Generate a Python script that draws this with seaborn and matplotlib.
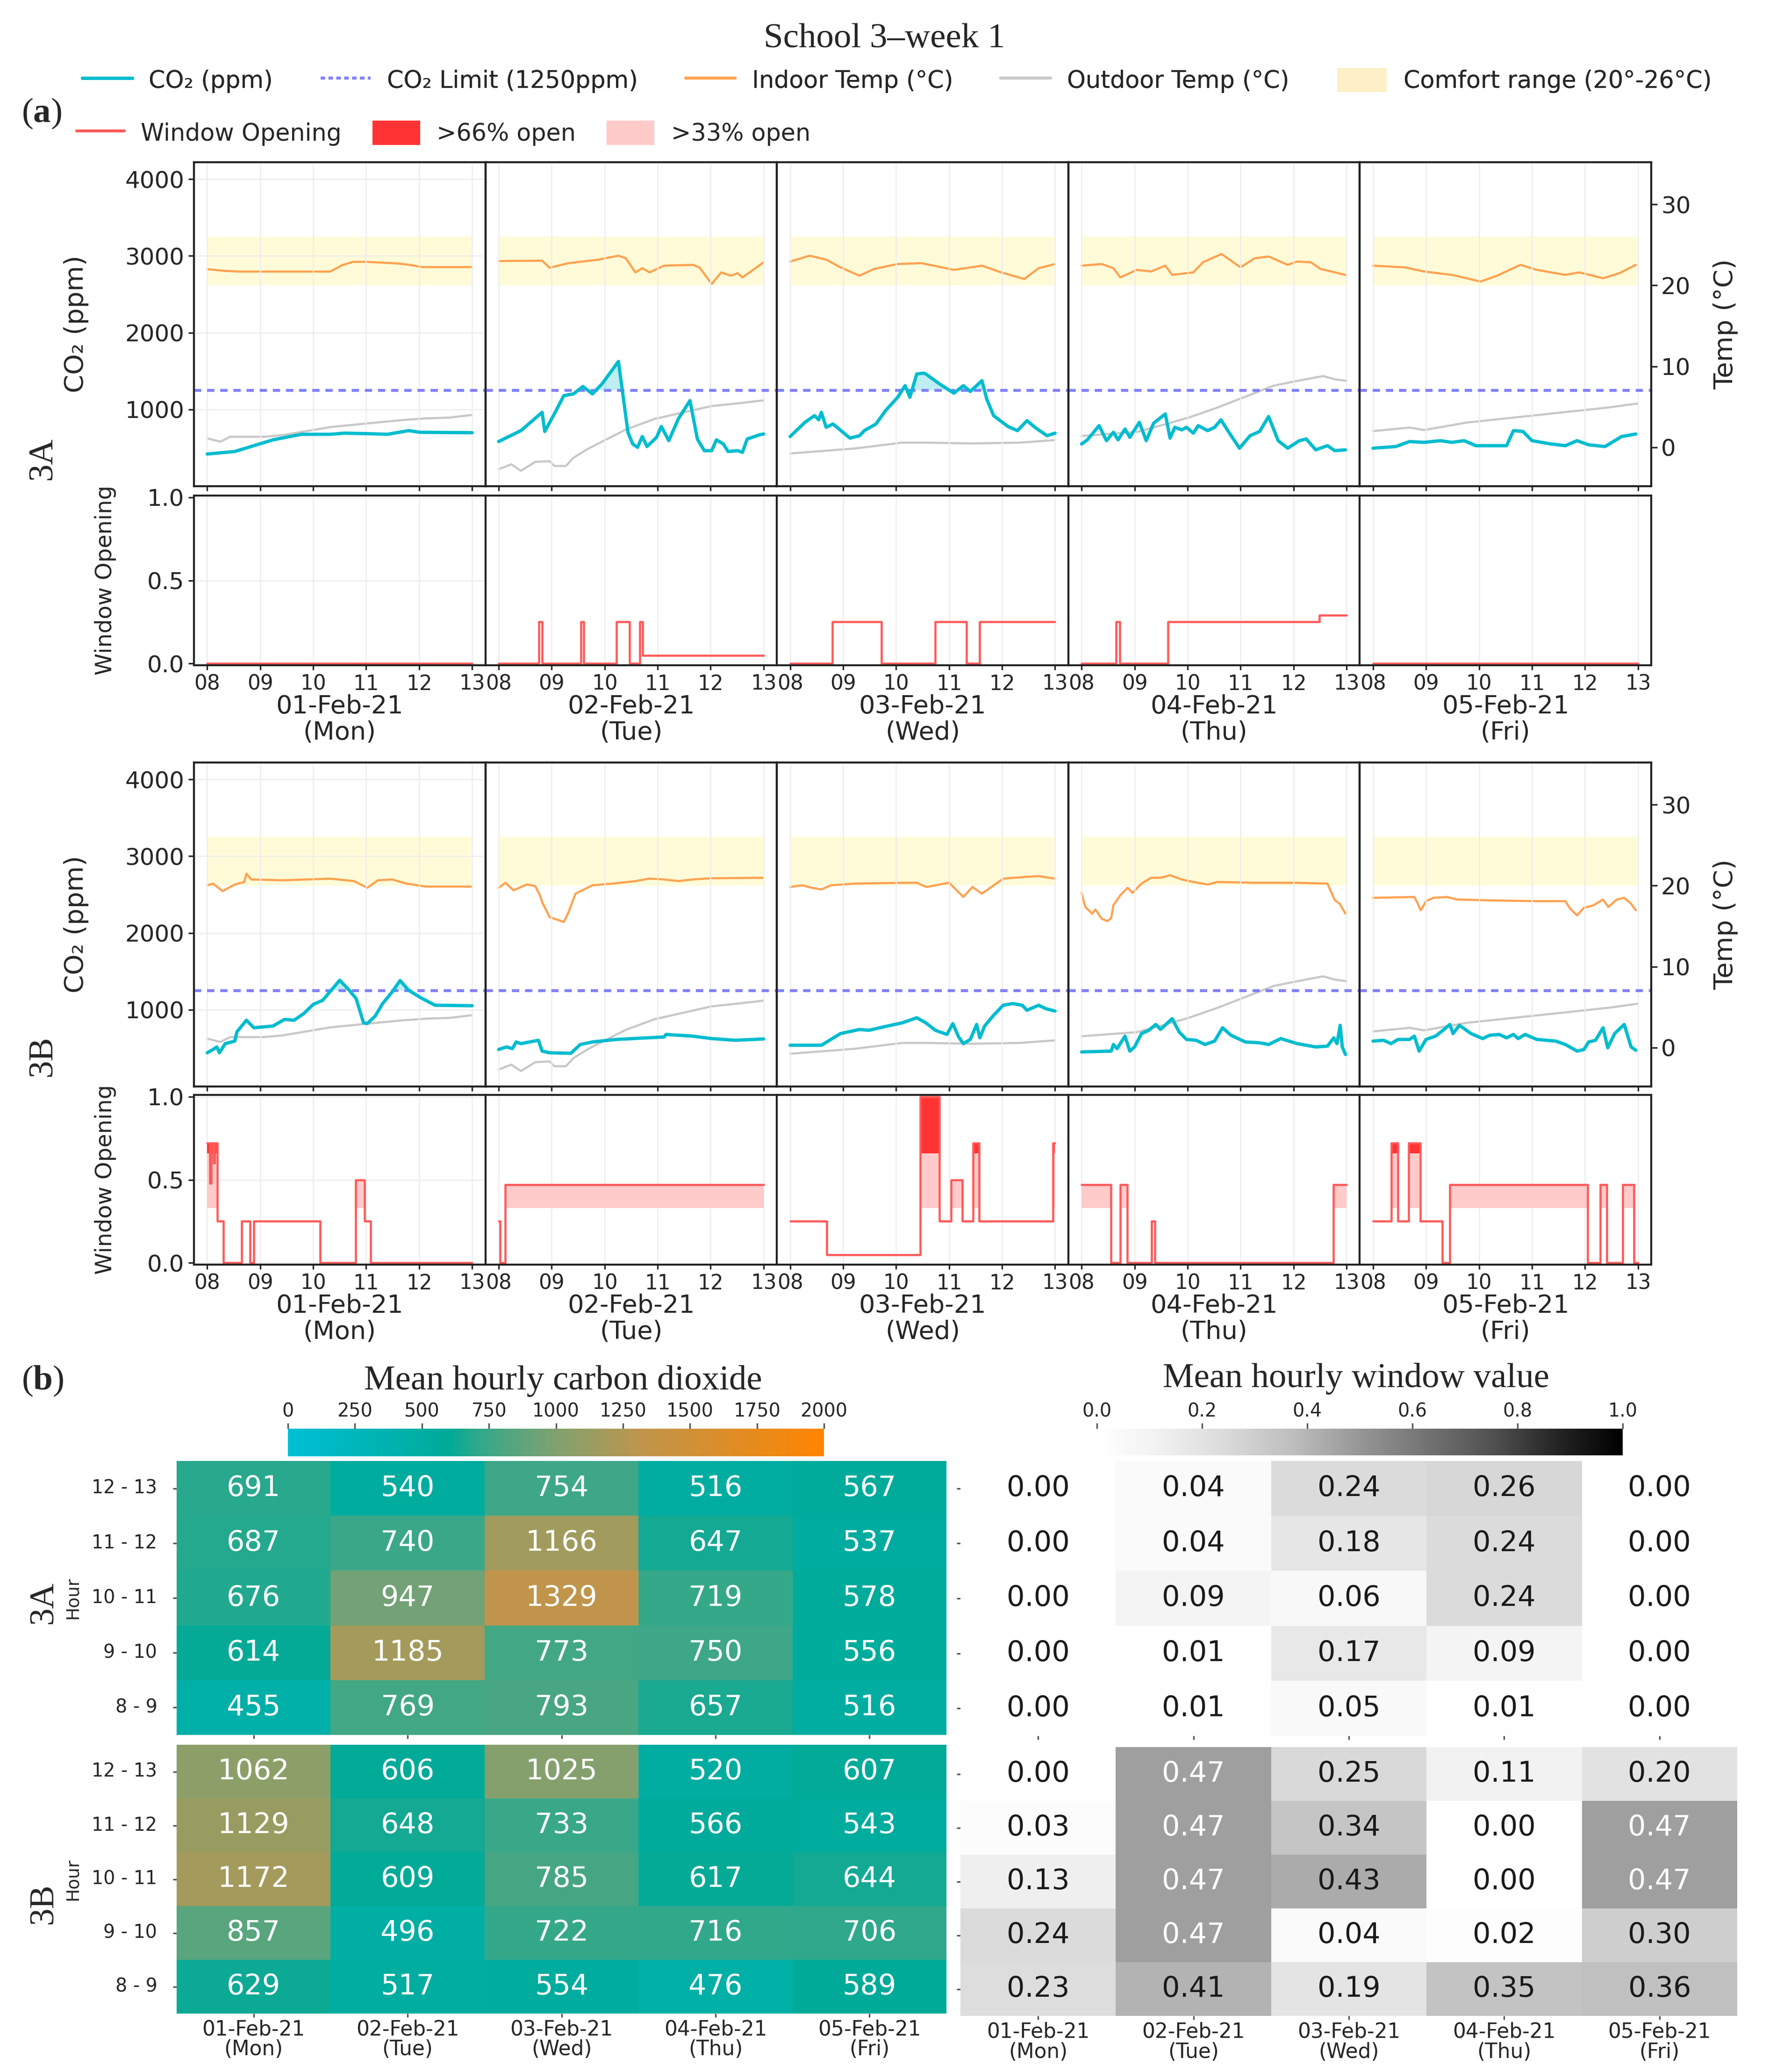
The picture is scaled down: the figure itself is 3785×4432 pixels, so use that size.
import numpy as np
import pandas as pd
import matplotlib
matplotlib.use("Agg")
import matplotlib.pyplot as plt
import seaborn as sns
from matplotlib.colors import LinearSegmentedColormap, Normalize
from matplotlib.cm import ScalarMappable
from matplotlib.lines import Line2D
from matplotlib.patches import Patch

sns.set_style("white")
plt.rcParams["font.family"] = ["DejaVu Sans"]
plt.rcParams["mathtext.fontset"] = "custom"
plt.rcParams["mathtext.rm"] = "Liberation Serif"
plt.rcParams["mathtext.bf"] = "Liberation Serif:bold"
SERIF = "Liberation Serif"

DAYS = ["01-Feb-21", "02-Feb-21", "03-Feb-21", "04-Feb-21", "05-Feb-21"]
WEEKDAYS = ["Mon", "Tue", "Wed", "Thu", "Fri"]
HOUR_BINS = ["8 - 9", "9 - 10", "10 - 11", "11 - 12", "12 - 13"]
CO2_LIMIT = 1250
COMFORT_LOW, COMFORT_HIGH = 20, 26

# ---- outdoor temperature (°C), same for both rooms ----
outdoor_mon = [(8.0, 1.1), (8.25, 0.7), (8.43, 1.3), (9.06, 1.3), (9.42, 1.5), (9.87, 2.0), (10.32, 2.5),
               (11.02, 2.95), (11.67, 3.36), (12.12, 3.57), (12.57, 3.67), (13.0, 4.0)]
outdoor_tue = [(8.0, -2.7), (8.24, -2.1), (8.42, -2.9), (8.69, -1.8), (8.96, -1.7), (9.05, -2.3), (9.27, -2.3),
               (9.41, -1.3), (9.68, -0.2), (10.04, 1.0), (10.4, 2.2), (10.94, 3.5), (11.48, 4.3), (12.02, 5.1),
               (12.47, 5.4), (13.0, 5.8)]
outdoor_wed = [(8.0, -0.76), (9.22, -0.14), (10.12, 0.58), (10.56, 0.58), (11.44, 0.48), (12.33, 0.58), (13.0, 0.89)]
outdoor_thu = [(8.0, 1.4), (8.6, 1.7), (9.04, 1.9), (9.58, 2.85), (10.02, 3.67), (10.56, 4.9), (11.09, 6.25),
               (11.62, 7.6), (12.07, 8.2), (12.56, 8.8), (12.78, 8.4), (13.0, 8.2)]
outdoor_fri = [(8.0, 2.0), (8.69, 2.44), (8.96, 2.13), (9.76, 3.05), (10.65, 3.67), (11.54, 4.29), (12.43, 4.91),
               (13.0, 5.42)]

# ---- room 3A ----
co2_3a_mon = [(8.0, 419), (8.52, 452), (8.88, 528), (9.24, 604), (9.78, 676), (10.32, 676), (10.59, 691),
              (11.04, 684), (11.4, 676), (11.8, 724), (12.02, 702), (13.0, 697)]
co2_3a_tue = [(8.0, 582), (8.42, 724), (8.82, 962), (8.87, 713), (9.05, 941), (9.23, 1180), (9.41, 1202),
              (9.59, 1299), (9.77, 1202), (9.95, 1332), (10.26, 1625), (10.44, 702), (10.53, 550), (10.62, 506),
              (10.71, 647), (10.8, 517), (10.98, 637), (11.07, 778), (11.21, 593), (11.39, 876), (11.61, 1115),
              (11.75, 615), (11.88, 463), (12.02, 463), (12.11, 604), (12.24, 550), (12.33, 452), (12.51, 463),
              (12.6, 441), (12.69, 615), (12.92, 669), (13.0, 680)]
co2_3a_wed = [(8.0, 647), (8.28, 832), (8.46, 919), (8.54, 865), (8.59, 962), (8.68, 767), (8.81, 810),
              (9.13, 626), (9.31, 658), (9.4, 724), (9.62, 810), (9.8, 984), (10.03, 1158), (10.17, 1310),
              (10.26, 1158), (10.39, 1462), (10.52, 1473), (10.56, 1462), (10.82, 1332), (11.09, 1212),
              (11.27, 1310), (11.4, 1234), (11.62, 1375), (11.71, 1136), (11.84, 919), (12.11, 778),
              (12.29, 724), (12.47, 854), (12.64, 756), (12.85, 658), (13.0, 691)]
co2_3a_thu = [(8.0, 550), (8.11, 604), (8.33, 789), (8.47, 593), (8.6, 702), (8.69, 604), (8.82, 745),
              (8.91, 637), (9.09, 832), (9.22, 593), (9.36, 821), (9.58, 941), (9.67, 626), (9.76, 767),
              (9.89, 734), (9.98, 767), (10.11, 691), (10.2, 789), (10.38, 724), (10.51, 767), (10.63, 865),
              (10.78, 702), (10.98, 495), (11.18, 658), (11.36, 713), (11.53, 908), (11.71, 593), (11.89, 495),
              (12.11, 593), (12.24, 615), (12.42, 474), (12.64, 528), (12.78, 463), (12.98, 474)]
co2_3a_fri = [(8.0, 495), (8.43, 517), (8.69, 582), (8.96, 571), (9.27, 593), (9.49, 571), (9.72, 593),
              (9.94, 528), (10.52, 528), (10.65, 724), (10.83, 713), (11.0, 593), (11.36, 550), (11.63, 528),
              (11.85, 593), (12.07, 539), (12.38, 517), (12.69, 647), (12.96, 680)]

indoor_3a_mon = [(8.0, 22.0), (8.3, 21.8), (8.6, 21.7), (9.5, 21.7), (10.32, 21.7), (10.55, 22.5), (10.75, 22.9),
                 (11.0, 22.9), (11.3, 22.8), (11.6, 22.7), (11.85, 22.5), (12.05, 22.25), (13.0, 22.25)]
indoor_3a_tue = [(8.0, 23.0), (8.82, 23.05), (8.96, 22.18), (9.32, 22.74), (9.86, 23.15), (10.26, 23.66),
                 (10.4, 23.35), (10.58, 21.6), (10.71, 22.12), (10.85, 21.6), (11.12, 22.43), (11.66, 22.53),
                 (11.79, 22.22), (12.02, 20.16), (12.2, 21.6), (12.38, 21.19), (12.51, 21.5), (12.6, 20.98),
                 (13.0, 22.84)]
indoor_3a_wed = [(8.0, 22.94), (8.37, 23.66), (8.69, 23.15), (8.95, 22.22), (9.31, 21.19), (9.58, 22.02),
                 (10.03, 22.63), (10.48, 22.74), (10.56, 22.63), (11.09, 21.91), (11.62, 22.43), (11.98, 21.6),
                 (12.42, 20.78), (12.69, 22.12), (13.0, 22.63)]
indoor_3a_thu = [(8.0, 22.43), (8.38, 22.63), (8.6, 22.12), (8.73, 20.98), (9.04, 21.91), (9.31, 21.71),
                 (9.58, 22.43), (9.71, 21.29), (10.11, 21.6), (10.29, 22.84), (10.64, 23.87), (11.0, 22.22),
                 (11.27, 23.35), (11.53, 23.56), (11.89, 22.53), (12.07, 22.94), (12.33, 22.84), (12.51, 22.02),
                 (12.78, 21.6), (12.98, 21.29)]
indoor_3a_fri = [(8.0, 22.43), (8.6, 22.22), (8.96, 21.71), (9.49, 21.29), (10.03, 20.47), (10.34, 21.19),
                 (10.78, 22.53), (11.09, 21.91), (11.63, 21.29), (11.89, 21.6), (12.34, 20.88), (12.65, 21.5),
                 (12.96, 22.53)]

# window opening, value holds until next change point
win_3a_mon = [(8.0, 0.0), (13.0, 0.0)]
win_3a_tue = [(8.0, 0.0), (8.76, 0.25), (8.82, 0.0), (9.55, 0.25), (9.61, 0.0), (10.22, 0.25), (10.47, 0.0),
              (10.66, 0.25), (10.72, 0.05), (13.0, 0.05)]
win_3a_wed = [(8.0, 0.0), (8.8, 0.25), (9.72, 0.0), (10.74, 0.25), (11.33, 0.0), (11.58, 0.25), (13.0, 0.25)]
win_3a_thu = [(8.0, 0.0), (8.65, 0.25), (8.72, 0.0), (9.63, 0.25), (12.49, 0.29), (13.0, 0.29)]
win_3a_fri = [(8.0, 0.0), (13.0, 0.0)]

# ---- room 3B ----
co2_3b_mon = [(8.0, 439), (8.11, 482), (8.18, 515), (8.23, 439), (8.34, 558), (8.52, 591), (8.56, 711),
              (8.74, 863), (8.88, 765), (9.24, 787), (9.46, 874), (9.64, 863), (9.82, 949), (10.0, 1069),
              (10.18, 1123), (10.5, 1384), (10.68, 1254), (10.81, 1145), (10.95, 830), (11.02, 819),
              (11.17, 917), (11.31, 1080), (11.49, 1232), (11.64, 1380), (11.8, 1254), (12.03, 1156),
              (12.3, 1058), (13.0, 1052)]
co2_3b_tue = [(8.0, 482), (8.15, 515), (8.26, 493), (8.33, 580), (8.42, 558), (8.75, 602), (8.82, 461),
              (8.96, 439), (9.36, 432), (9.54, 547), (9.77, 580), (10.22, 613), (11.12, 645), (11.16, 678),
              (11.66, 656), (12.02, 624), (12.47, 602), (13.0, 619)]
co2_3b_wed = [(8.0, 537), (8.59, 537), (8.95, 689), (9.31, 743), (9.49, 732), (9.76, 776), (10.12, 830),
              (10.39, 895), (10.56, 830), (10.74, 732), (10.96, 678), (11.07, 819), (11.18, 645), (11.27, 558),
              (11.4, 613), (11.52, 808), (11.58, 634), (11.67, 787), (11.84, 928), (12.02, 1058), (12.2, 1080),
              (12.38, 1058), (12.47, 993), (12.69, 1058), (12.82, 1015), (13.0, 982)]
co2_3b_thu = [(8.0, 450), (8.56, 461), (8.6, 547), (8.67, 493), (8.82, 656), (8.91, 461), (9.0, 515),
              (9.13, 689), (9.27, 732), (9.4, 808), (9.49, 743), (9.71, 884), (9.84, 711), (9.98, 613),
              (10.16, 602), (10.33, 547), (10.51, 591), (10.66, 765), (10.82, 667), (11.09, 580), (11.36, 569),
              (11.53, 547), (11.76, 624), (12.07, 558), (12.42, 515), (12.64, 526), (12.76, 634), (12.82, 558),
              (12.88, 797), (12.92, 515), (12.98, 417)]
co2_3b_fri = [(8.0, 591), (8.2, 602), (8.34, 558), (8.47, 613), (8.69, 613), (8.78, 656), (8.87, 461),
              (9.0, 613), (9.18, 656), (9.32, 732), (9.45, 808), (9.51, 689), (9.63, 797), (9.85, 689),
              (10.07, 624), (10.2, 667), (10.38, 678), (10.52, 634), (10.65, 678), (10.74, 624), (10.87, 678),
              (11.09, 613), (11.45, 591), (11.63, 547), (11.85, 461), (11.98, 482), (12.07, 580), (12.2, 602),
              (12.34, 765), (12.43, 504), (12.56, 689), (12.74, 808), (12.87, 515), (12.96, 472)]

indoor_3b_mon = [(8.0, 20.04), (8.11, 20.25), (8.29, 19.32), (8.52, 20.14), (8.7, 20.45), (8.74, 21.48),
                 (8.83, 20.76), (9.42, 20.66), (10.32, 20.86), (10.77, 20.56), (11.02, 19.73), (11.22, 20.66),
                 (11.49, 20.76), (11.76, 20.25), (12.12, 19.88), (13.0, 19.88)]
indoor_3b_tue = [(8.0, 19.73), (8.13, 20.35), (8.28, 19.42), (8.53, 20.14), (8.69, 19.94), (8.78, 18.8),
                 (8.82, 17.98), (8.96, 16.12), (9.23, 15.51), (9.32, 16.74), (9.45, 19.01), (9.77, 20.04),
                 (10.22, 20.29), (10.58, 20.56), (10.85, 20.87), (11.12, 20.76), (11.39, 20.56), (11.66, 20.76),
                 (12.02, 20.91), (13.0, 20.97)]
indoor_3b_wed = [(8.0, 19.83), (8.23, 20.04), (8.41, 19.73), (8.59, 19.53), (8.77, 20.04), (9.22, 20.25),
                 (10.12, 20.35), (10.39, 20.35), (10.57, 19.83), (11.0, 20.35), (11.27, 18.6), (11.44, 19.83),
                 (11.62, 19.01), (12.02, 20.86), (12.42, 21.07), (12.69, 21.17), (13.0, 20.86)]
indoor_3b_thu = [(8.0, 19.11), (8.07, 17.36), (8.2, 16.54), (8.26, 17.05), (8.38, 15.92), (8.49, 15.61),
                 (8.56, 16.02), (8.6, 17.57), (8.73, 18.8), (8.87, 19.73), (8.96, 19.11), (9.13, 20.25),
                 (9.31, 20.97), (9.49, 20.97), (9.67, 21.28), (9.89, 20.76), (10.11, 20.45), (10.38, 20.14),
                 (10.56, 20.45), (11.27, 20.35), (12.07, 20.35), (12.64, 20.25), (12.78, 18.19), (12.87, 17.77),
                 (12.98, 16.54)]
indoor_3b_fri = [(8.0, 18.49), (8.78, 18.6), (8.83, 17.98), (8.9, 16.95), (9.0, 18.08), (9.14, 18.49),
                 (9.4, 18.6), (9.58, 18.29), (10.12, 18.19), (11.09, 18.08), (11.63, 18.08), (11.72, 17.15),
                 (11.85, 16.33), (11.98, 17.26), (12.16, 17.57), (12.34, 18.29), (12.44, 17.36), (12.6, 18.29),
                 (12.74, 18.49), (12.87, 17.77), (12.96, 16.95)]

win_3b_mon = [(8.0, 0.72), (8.05, 0.48), (8.08, 0.72), (8.12, 0.6), (8.14, 0.72), (8.19, 0.25), (8.31, 0.0),
              (8.65, 0.25), (8.81, 0.0), (8.88, 0.25), (10.13, 0.0), (10.8, 0.5), (10.97, 0.25), (11.08, 0.0),
              (13.0, 0.0)]
win_3b_tue = [(8.0, 0.25), (8.03, 0.0), (8.12, 0.47), (13.0, 0.47)]
win_3b_wed = [(8.0, 0.25), (8.69, 0.05), (10.46, 1.0), (10.82, 0.25), (11.04, 0.5), (11.25, 0.25), (11.45, 0.72),
              (11.57, 0.25), (12.96, 0.72), (13.0, 0.72)]
win_3b_thu = [(8.0, 0.47), (8.55, 0.0), (8.73, 0.47), (8.86, 0.0), (9.32, 0.25), (9.38, 0.0), (12.75, 0.47),
              (13.0, 0.47)]
win_3b_fri = [(8.0, 0.25), (8.35, 0.72), (8.47, 0.25), (8.67, 0.72), (8.89, 0.25), (9.31, 0.0), (9.45, 0.47),
              (12.05, 0.0), (12.29, 0.47), (12.41, 0.0), (12.71, 0.47), (12.92, 0.0), (13.0, 0.0)]

# ---- hourly means (rows 8-9 ... 12-13, columns Mon ... Fri) ----
co2_mean_3a = [[455, 769, 793, 657, 516],
               [614, 1185, 773, 750, 556],
               [676, 947, 1329, 719, 578],
               [687, 740, 1166, 647, 537],
               [691, 540, 754, 516, 567]]
co2_mean_3b = [[629, 517, 554, 476, 589],
               [857, 496, 722, 716, 706],
               [1172, 609, 785, 617, 644],
               [1129, 648, 733, 566, 543],
               [1062, 606, 1025, 520, 607]]
win_mean_3a = [[0.00, 0.01, 0.05, 0.01, 0.00],
               [0.00, 0.01, 0.17, 0.09, 0.00],
               [0.00, 0.09, 0.06, 0.24, 0.00],
               [0.00, 0.04, 0.18, 0.24, 0.00],
               [0.00, 0.04, 0.24, 0.26, 0.00]]
win_mean_3b = [[0.23, 0.41, 0.19, 0.35, 0.36],
               [0.24, 0.47, 0.04, 0.02, 0.30],
               [0.13, 0.47, 0.43, 0.00, 0.47],
               [0.03, 0.47, 0.34, 0.00, 0.47],
               [0.00, 0.47, 0.25, 0.11, 0.20]]

outdoor = [outdoor_mon, outdoor_tue, outdoor_wed, outdoor_thu, outdoor_fri]
co2_3a = [co2_3a_mon, co2_3a_tue, co2_3a_wed, co2_3a_thu, co2_3a_fri]
co2_3b = [co2_3b_mon, co2_3b_tue, co2_3b_wed, co2_3b_thu, co2_3b_fri]
indoor_3a = [indoor_3a_mon, indoor_3a_tue, indoor_3a_wed, indoor_3a_thu, indoor_3a_fri]
indoor_3b = [indoor_3b_mon, indoor_3b_tue, indoor_3b_wed, indoor_3b_thu, indoor_3b_fri]
win_3a = [win_3a_mon, win_3a_tue, win_3a_wed, win_3a_thu, win_3a_fri]
win_3b = [win_3b_mon, win_3b_tue, win_3b_wed, win_3b_thu, win_3b_fri]

C_CO2 = "#00bccf"
C_LIMIT = "#8080ff"
C_IN = "#ffa250"
C_OUT = "#c8c8c8"
C_COMFORT = "#fffbd8"
C_COMFORT_LEG = "#fdf0c8"
C_WIN = "#ff5a5a"
C_WIN66 = "#ff3333"
C_WIN33 = "#ffcaca"
C_GRID = "#ededed"
C_SPINE = "#222222"

W, H = 3785, 4432
fig = plt.figure(figsize=(W / 300, H / 300), dpi=300)


def box(left, top, right, bottom):
    return [left / W, 1 - bottom / H, (right - left) / W, (bottom - top) / H]


# ---------------- (a) time series panels ----------------
X0, PW = 415, 623.6
rows = [("3A", 347, 1060, co2_3a, indoor_3a, win_3a, 981),
        ("3B", 1631, 2342, co2_3b, indoor_3b, win_3b, 2259)]

for name, top, wtop, co2_days, indoor_days, win_days, label_y in rows:
    fig.text(92 / W, 1 - label_y / H, name, family=SERIF, fontsize=18, rotation=90, ha="center", va="center")
    for i in range(5):
        left = X0 + i * PW
        ax = fig.add_axes(box(left, top, left + PW, top + 693))
        tw = ax.twinx()
        ax.set_zorder(tw.get_zorder() + 1)
        ax.patch.set_visible(False)

        tw.fill_between([8, 13], COMFORT_LOW, COMFORT_HIGH, color=C_COMFORT, lw=0, zorder=0)
        t_o, v_o = np.array(outdoor[i]).T
        sns.lineplot(x=t_o, y=v_o, ax=tw, color=C_OUT, lw=1.1, estimator=None, sort=False)
        t_i, v_i = np.array(indoor_days[i]).T
        sns.lineplot(x=t_i, y=v_i, ax=tw, color=C_IN, lw=1.1, estimator=None, sort=False)

        t_c, v_c = np.array(co2_days[i]).T
        ax.fill_between(t_c, v_c, CO2_LIMIT, where=v_c > CO2_LIMIT, interpolate=True,
                        color=C_CO2, alpha=0.25, lw=0)
        ax.axhline(CO2_LIMIT, color=C_LIMIT, ls="--", lw=1.5, dashes=(2.5, 2))
        sns.lineplot(x=t_c, y=v_c, ax=ax, color=C_CO2, lw=1.7, estimator=None, sort=False)

        wax = fig.add_axes(box(left, wtop, left + PW, wtop + 363))
        t_w, v_w = np.array(win_days[i]).T
        wax.fill_between(t_w, 0.33, np.maximum(v_w, 0.33), step="post", color=C_WIN33, lw=0)
        wax.fill_between(t_w, 0.66, np.maximum(v_w, 0.66), step="post", color=C_WIN66, lw=0)
        wax.plot(t_w, v_w, drawstyle="steps-post", color=C_WIN, lw=1.1)

        for a in (ax, wax):
            a.set_xlim(7.75, 13.25)
            a.set_xticks(range(8, 14))
            a.grid(True, axis="x", color=C_GRID, lw=0.6)
            for sp in a.spines.values():
                sp.set_color(C_SPINE)
                sp.set_linewidth(1.0)
        for sp in tw.spines.values():
            sp.set_color(C_SPINE)
            sp.set_linewidth(1.0)
        ax.set_ylim(0, 4220)
        tw.set_ylim(-4.8, 35.2)
        wax.set_ylim(-0.01, 1.01)
        ax.set_xlabel("")
        ax.set_ylabel("")
        tw.set_ylabel("")
        ax.tick_params(axis="x", bottom=True, length=2.5, labelbottom=False)
        wax.tick_params(axis="x", bottom=True, length=2.5, pad=2, labelsize=10.5)
        wax.set_xticklabels([f"{h:02d}" for h in range(8, 14)])
        wax.set_xlabel(f"{DAYS[i]}\n({WEEKDAYS[i]})", fontsize=13, labelpad=0, linespacing=1.1)
        ax.set_yticks([1000, 2000, 3000, 4000])
        wax.set_yticks([0, 0.5, 1.0])
        if i == 0:
            ax.grid(True, axis="y", color=C_GRID, lw=0.6)
            wax.grid(True, axis="y", color=C_GRID, lw=0.6)
            ax.tick_params(axis="y", left=True, length=3, pad=2, labelsize=12)
            wax.tick_params(axis="y", left=True, length=3, pad=2, labelsize=12)
            wax.set_yticklabels(["0.0", "0.5", "1.0"])
            ax.set_ylabel("CO₂ (ppm)", fontsize=13.5)
            ax.yaxis.set_label_coords(-0.361, 0.5)
            wax.set_ylabel("Window Opening", fontsize=11.5)
            wax.yaxis.set_label_coords(-0.266, 0.5)
        else:
            ax.tick_params(axis="y", left=False, labelleft=False)
            wax.tick_params(axis="y", left=False, labelleft=False)
        if i == 4:
            tw.set_yticks([0, 10, 20, 30])
            tw.tick_params(axis="y", right=True, length=3, pad=2, labelsize=12)
            tw.set_ylabel("Temp (°C)", fontsize=13.5)
            tw.yaxis.set_label_coords(1.212, 0.5)
        else:
            tw.set_yticks([])

# ---------------- legends and titles ----------------
fig.text(0.5, 1 - 83 / H, "School 3–week 1", family=SERIF, fontsize=18, ha="center", va="center")
fig.text(89 / W, 1 - 243 / H, r"($\mathbf{a}$)", family=SERIF, fontsize=18, ha="center", va="center")
fig.text(91 / W, 1 - 2954 / H, r"($\mathbf{b}$)", family=SERIF, fontsize=18, ha="center", va="center")

leg1_handles = [Line2D([], [], color=C_CO2, lw=1.7),
                Line2D([], [], color=C_LIMIT, lw=1.5, ls="--", dashes=(1.5, 1.2)),
                Line2D([], [], color=C_IN, lw=1.5),
                Line2D([], [], color=C_OUT, lw=1.5),
                Patch(facecolor=C_COMFORT_LEG, edgecolor="none")]
leg1_labels = ["CO₂ (ppm)", "CO₂ Limit (1250ppm)", "Indoor Temp (°C)", "Outdoor Temp (°C)",
               "Comfort range (20°-26°C)"]
leg1 = fig.legend(leg1_handles, leg1_labels, loc="center left", bbox_to_anchor=(176 / W, 1 - 172 / H),
                  ncol=5, frameon=False, fontsize=12.2, handlelength=2.1, handleheight=1.2,
                  handletextpad=0.7, columnspacing=2.0, borderpad=0, borderaxespad=0)
leg2_handles = [Line2D([], [], color=C_WIN, lw=1.5),
                Patch(facecolor=C_WIN66, edgecolor="none"),
                Patch(facecolor=C_WIN33, edgecolor="none")]
leg2_labels = ["Window Opening", ">66% open", ">33% open"]
fig.legend(leg2_handles, leg2_labels, loc="center left", bbox_to_anchor=(164 / W, 1 - 285 / H),
           ncol=3, frameon=False, fontsize=12.2, handlelength=2.0, handleheight=1.2,
           handletextpad=0.7, columnspacing=1.3, borderpad=0, borderaxespad=0)
fig.add_artist(leg1)

# ---------------- (b) heatmaps ----------------
co2_cmap = LinearSegmentedColormap.from_list(
    "co2", [(0.0, "#00bfd4"), (0.3, "#00aa98"), (0.36, "#35a88a"), (0.5, "#80a170"),
            (0.66, "#bf954c"), (1.0, "#ff8400")])
win_cmap = plt.get_cmap("Greys")
day_ticks = [f"{d}\n({w})" for d, w in zip(DAYS, WEEKDAYS)]


def draw_heat(rect, values, cmap, vmax, fmt, bottom_row, left_col):
    hax = fig.add_axes(rect)
    df = pd.DataFrame(values, index=HOUR_BINS, columns=DAYS).iloc[::-1]
    sns.heatmap(df, ax=hax, cmap=cmap, vmin=0, vmax=vmax, annot=True, fmt=fmt, cbar=False,
                annot_kws={"fontsize": 14.5})
    for txt in hax.texts:
        v = float(txt.get_text())
        txt.set_color("white" if (fmt == "d" or v >= 0.45) else "#1a1a1a")
    hax.tick_params(axis="x", bottom=True, length=2, pad=1, color="#555555")
    hax.tick_params(axis="y", left=True, length=2, pad=8, color="#555555")
    hax.set_xlabel("")
    if bottom_row:
        hax.set_xticklabels(day_ticks, rotation=0, fontsize=10.5, linespacing=1.0)
    else:
        hax.set_xticklabels([])
    if left_col:
        hax.set_yticklabels(list(df.index), rotation=0, fontsize=9.5)
        hax.set_ylabel("Hour", fontsize=9)
        hax.yaxis.set_label_coords(-0.124, 0.5)
    else:
        hax.set_yticklabels([])
        hax.set_ylabel("")
    return hax


draw_heat(box(378, 3125, 2025, 3711), co2_mean_3a, co2_cmap, 2000, "d", False, True)
draw_heat(box(378, 3732, 2025, 4307), co2_mean_3b, co2_cmap, 2000, "d", True, True)
draw_heat(box(2055, 3125, 3717, 3713), win_mean_3a, win_cmap, 1.0, ".2f", False, False)
draw_heat(box(2055, 3737, 3717, 4312), win_mean_3b, win_cmap, 1.0, ".2f", True, False)

fig.text(94 / W, 1 - 3428 / H, "3A", family=SERIF, fontsize=18, rotation=90, ha="center", va="center")
fig.text(94 / W, 1 - 4072 / H, "3B", family=SERIF, fontsize=18, rotation=90, ha="center", va="center")
fig.text(1205 / W, 1 - 2954 / H, "Mean hourly carbon dioxide", family=SERIF, fontsize=18,
         ha="center", va="center")
fig.text(2902 / W, 1 - 2949 / H, "Mean hourly window value", family=SERIF, fontsize=18,
         ha="center", va="center")

for rect, cmap, vmax, ticks in [(box(616, 3056, 1763, 3115), co2_cmap, 2000, list(range(0, 2001, 250))),
                                (box(2347, 3056, 3472, 3113), win_cmap, 1.0, [0, 0.2, 0.4, 0.6, 0.8, 1.0])]:
    cax = fig.add_axes(rect)
    cb = fig.colorbar(ScalarMappable(Normalize(0, vmax), cmap), cax=cax, orientation="horizontal")
    cb.outline.set_visible(False)
    cb.set_ticks(ticks)
    if vmax == 1.0:
        cb.set_ticklabels([f"{v:.1f}" for v in ticks])
    cax.xaxis.set_ticks_position("top")
    cax.tick_params(axis="x", top=True, bottom=False, labelsize=9.5, length=3, pad=1, color="#555555")

fig.savefig("out.png", dpi=300)
